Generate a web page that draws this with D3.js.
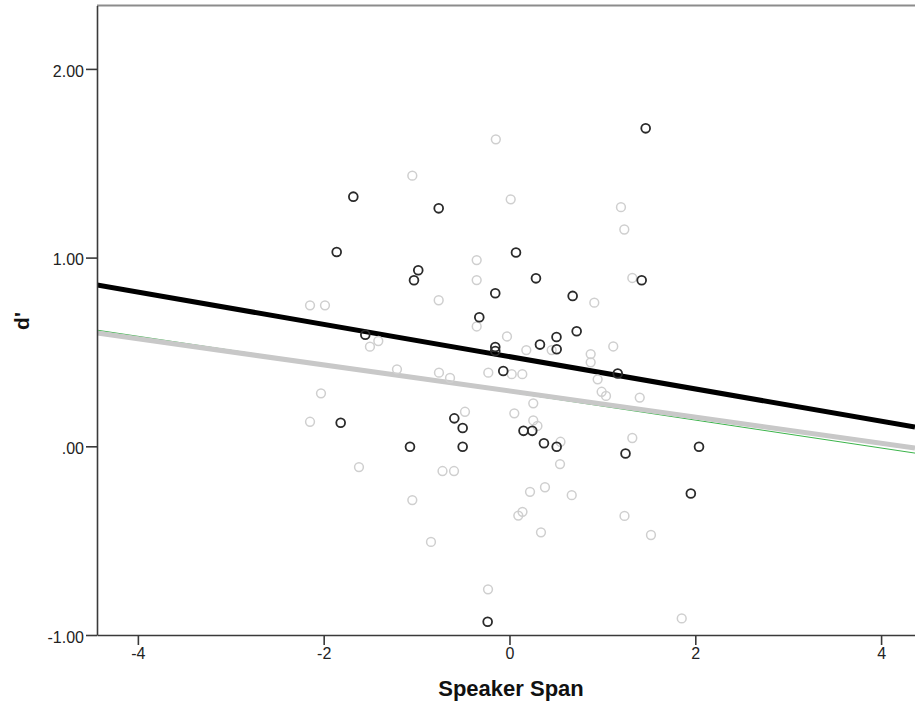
<!DOCTYPE html>
<html>
<head>
<meta charset="utf-8">
<script src="https://cdn.jsdelivr.net/npm/d3@7"></script>
<style>
  html, body { margin: 0; padding: 0; background: #fff; }
  svg { display: block; font-family: "Liberation Sans", Arial, sans-serif; }
</style>
</head>
<body>
<svg id="chart" width="915" height="706"></svg>
<script>
// ---------- data ----------
// dark circles (group 1)
const darkX = [1.466, -1.681, -0.762, -1.860, 0.070, -0.982, -1.028, 1.423, 0.285, -0.153,
  0.680, -0.325, 0.723, 0.506, 0.328, 0.508, -0.153, -0.153, -1.552, -0.067,
  1.165, -1.817, -0.594, -0.504, -1.071, -0.504, 0.151, 0.245, 0.371, 0.508,
  1.249, 2.040, 1.952, -0.235];
const darkY = [1.685, 1.323, 1.261, 1.030, 1.027, 0.933, 0.880, 0.880, 0.890, 0.811,
  0.797, 0.684, 0.610, 0.579, 0.539, 0.514, 0.526, 0.505, 0.591, 0.399,
  0.386, 0.125, 0.148, 0.097, -0.002, -0.002, 0.082, 0.082, 0.016, -0.002,
  -0.038, -0.002, -0.250, -0.930];

// light circles (group 2)
const lightX = [-0.147, -1.046, 0.013, 1.200, 1.236, -0.353, -0.353, 1.322, -0.762, -2.147,
  -1.986, 0.913, -0.353, -0.027, -1.412, -1.502, 1.117, 0.181, 0.454, 0.874,
  0.874, -1.211, -0.759, -0.640, -0.228, 0.024, 0.138, 0.949, 0.992, 1.039,
  1.402, -2.029, -2.147, -0.479, 0.052, 0.256, 0.256, 0.301, 0.549, 1.322,
  -1.620, -0.721, -0.597, 0.544, 0.221, 0.382, 0.670, -1.046, 0.095, 0.140,
  1.238, 0.339, 1.523, -0.845, -0.231, 1.854];
const lightY = [1.627, 1.434, 1.309, 1.267, 1.149, 0.987, 0.881, 0.892, 0.774, 0.747,
  0.747, 0.761, 0.635, 0.582, 0.558, 0.528, 0.529, 0.510, 0.510, 0.489,
  0.445, 0.408, 0.390, 0.362, 0.390, 0.382, 0.382, 0.355, 0.289, 0.267,
  0.258, 0.281, 0.130, 0.183, 0.175, 0.228, 0.137, 0.108, 0.024, 0.044,
  -0.110, -0.131, -0.131, -0.094, -0.241, -0.217, -0.259, -0.285, -0.367, -0.347,
  -0.369, -0.456, -0.470, -0.507, -0.758, -0.912];

// fit lines: intercept + slope (drawn in this order)
const lineNames = ["total", "light", "dark"];
const lineIntercepts = [0.287, 0.293, 0.475];
const lineSlopes = [-0.074, -0.0692, -0.0855];
const lineColors = ["#3cb44b", "#c8c8c8", "#000000"];
const lineWidths = [1, 5, 5];

const xTicks = [-4, -2, 0, 2, 4];
const xTickLabels = ["-4", "-2", "0", "2", "4"];
const yTicks = [-1, 0, 1, 2];
const yTickLabels = ["-1.00", ".00", "1.00", "2.00"];

// ---------- layout ----------
const svg = d3.select("#chart");
const plotLeft = 97, plotRight = 915, plotTop = 5.5, plotBottom = 635;

const x = d3.scaleLinear().domain([-4.44, 4.365]).range([plotLeft, plotRight]);
const y = d3.scaleLinear().domain([-1, 2.336]).range([plotBottom, plotTop]);

svg.append("defs").append("clipPath").attr("id", "plotClip")
  .append("rect").attr("x", plotLeft).attr("y", plotTop)
  .attr("width", plotRight - plotLeft).attr("height", plotBottom - plotTop);

// top frame line
svg.append("line")
  .attr("x1", plotLeft).attr("x2", plotRight)
  .attr("y1", plotTop).attr("y2", plotTop)
  .attr("stroke", "#8c8c8c").attr("stroke-width", 2);

// fit lines
const plot = svg.append("g").attr("clip-path", "url(#plotClip)");
lineNames.forEach((name, i) => {
  const dom = x.domain();
  plot.append("line")
    .attr("class", "fit-" + name)
    .attr("x1", x(dom[0])).attr("y1", y(lineIntercepts[i] + lineSlopes[i] * dom[0]))
    .attr("x2", x(dom[1])).attr("y2", y(lineIntercepts[i] + lineSlopes[i] * dom[1]))
    .attr("stroke", lineColors[i])
    .attr("stroke-width", lineWidths[i]);
});

// points
function drawPoints(xs, ys, color, sw) {
  plot.append("g").selectAll("circle")
    .data(xs.map((v, i) => [v, ys[i]]))
    .join("circle")
    .attr("cx", d => x(d[0]))
    .attr("cy", d => y(d[1]))
    .attr("r", 4.4)
    .attr("fill", "none")
    .attr("stroke", color)
    .attr("stroke-width", sw);
}
drawPoints(lightX, lightY, "#cfcfcf", 1.5);
drawPoints(darkX, darkY, "#2a2a2a", 1.8);

// axes
const xAxis = svg.append("g")
  .attr("transform", `translate(0,${plotBottom})`)
  .call(d3.axisBottom(x).tickValues(xTicks).tickSize(10).tickSizeOuter(0).tickPadding(3)
    .tickFormat((d, i) => xTickLabels[i]));
const yAxis = svg.append("g")
  .attr("transform", `translate(${plotLeft},0)`)
  .call(d3.axisLeft(y).tickValues(yTicks).tickSize(11).tickSizeOuter(0).tickPadding(2)
    .tickFormat((d, i) => yTickLabels[i]));

[xAxis, yAxis].forEach(a => {
  a.select(".domain").attr("stroke", "#3a3a3a").attr("stroke-width", 1.6);
  a.selectAll(".tick line").attr("stroke", "#3a3a3a").attr("stroke-width", 1.6);
  a.selectAll(".tick text").attr("fill", "#222").style("font-size", "16px")
    .style("font-family", "'Liberation Sans', Arial, sans-serif");
});
yAxis.selectAll(".tick text").attr("dy", "0.45em");

// axis titles
svg.append("text")
  .attr("x", 511).attr("y", 696)
  .attr("text-anchor", "middle")
  .style("font-size", "22px").style("font-weight", "bold")
  .attr("fill", "#111")
  .text("Speaker Span");

svg.append("text")
  .attr("transform", "translate(29,321) rotate(-90)")
  .attr("text-anchor", "middle")
  .style("font-size", "21px").style("font-weight", "bold")
  .attr("fill", "#111")
  .text("d'");
</script>
</body>
</html>
